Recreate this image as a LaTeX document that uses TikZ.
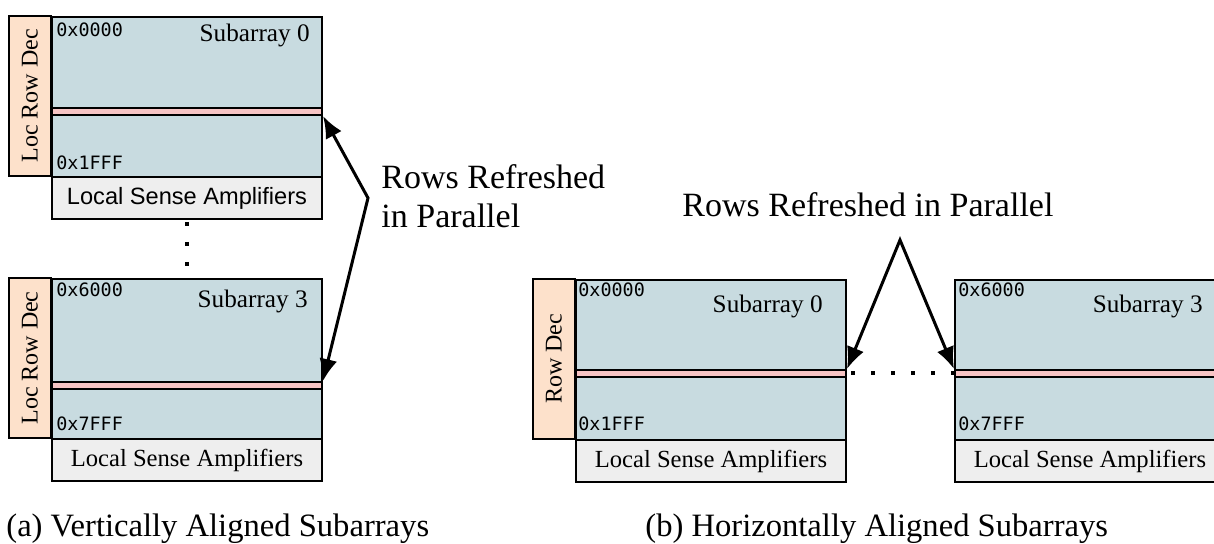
\documentclass[tikz,border=0pt]{standalone}
\usepackage{fontspec}
\setmainfont{Liberation Serif}
\setsansfont{Liberation Sans}
\setmonofont{DejaVu Sans Mono}
\usetikzlibrary{arrows.meta}
\definecolor{subfill}{RGB}{200,219,224}
\definecolor{decfill}{RGB}{253,225,203}
\definecolor{rowfill}{RGB}{247,196,196}
\definecolor{ampfill}{RGB}{238,238,238}
\tikzset{
	subbox/.style={draw=black, line width=1pt, fill=subfill, inner sep=0pt,
		minimum width=135pt, minimum height=80pt, anchor=north west},
	rowbar/.style={draw=black, line width=1pt, fill=rowfill, inner sep=0pt,
		minimum width=135pt, minimum height=3.5pt, anchor=north west},
	ampbox/.style={draw=black, line width=1pt, fill=ampfill, inner sep=0pt,
		minimum width=135pt, minimum height=21pt, anchor=north west,
		font=\fontsize{12.3}{14}\selectfont},
	decbox/.style={draw=black, line width=1pt, fill=decfill, inner sep=0pt,
		minimum width=80pt, minimum height=21pt, rotate=90,
		font=\fontsize{12}{14}\selectfont},
	addr/.style={inner sep=0pt, anchor=base west, font=\ttfamily\fontsize{9.2}{10}\selectfont},
	title/.style={inner sep=0pt, anchor=base east, font=\fontsize{12.6}{14}\selectfont},
	callout/.style={inner sep=0pt, align=left, font=\fontsize{17}{19.5}\selectfont},
	captext/.style={inner sep=0pt, anchor=base west, font=\fontsize{16.3}{18}\selectfont},
	arr/.style={line width=1.5pt, arrows={Latex[length=11pt,width=9pt]-Latex[length=11pt,width=9pt]}},
	dotline/.style={line width=2pt, dash pattern=on 2pt off 8pt}
}
\begin{document}
\begin{tikzpicture}[x=0.5pt, y=-0.5pt]
	\useasboundingbox (0,0) rectangle (1214,544);
	% (a) vertically aligned
	\node [subbox] at (51,16) (S0) {};
	\node [rowbar] at (51,107) (R0) {};
	\node [ampbox, font=\sffamily\fontsize{11.8}{14}\selectfont] at (51,176) (A0) {Local Sense Amplifiers};
	\node [decbox] at (30,96) (D0) {Loc Row Dec};
	\node [addr] at (56,37) (T0) {0x0000};
	\node [addr] at (56,170) (B0) {0x1FFF};
	\node [title] at (310,42) (N0) {Subarray 0};
	\node [subbox] at (51,278) (S3) {};
	\node [rowbar] at (51,381) (R3) {};
	\node [ampbox] at (51,438) (A3) {Local Sense Amplifiers};
	\node [decbox] at (30,358) (D3) {Loc Row Dec};
	\node [addr] at (56,297) (T3) {0x6000};
	\node [addr] at (56,431) (B3) {0x7FFF};
	\node [title] at (308,308) (N3) {Subarray 3};
	\draw [dotline] ([yshift=-1pt]A0.south) -- (S3.north);
	\coordinate (PA) at (368,198);
	\draw [arr] (R0.south east) -- (PA) -- (R3.north east);
	\node [callout, anchor=west] at (381,196) (LA) {Rows Refreshed\\in Parallel};
	\node [captext] at (6,536) (CA) {(a) Vertically Aligned Subarrays};
	% (b) horizontally aligned
	\node [subbox] at (575,279) (SB0) {};
	\node [rowbar] at (575,369) (RB0) {};
	\node [ampbox] at (575,439) (AB0) {Local Sense Amplifiers};
	\node [decbox] at (554,359) (DB0) {Row Dec};
	\node [addr] at (578,297) (TB0) {0x0000};
	\node [addr] at (578,431) (BB0) {0x1FFF};
	\node [title] at (823,313) (NB0) {Subarray 0};
	\node [subbox] at (954,279) (SB3) {};
	\node [rowbar] at (954,369) (RB3) {};
	\node [ampbox] at (954,439) (AB3) {Local Sense Amplifiers};
	\node [addr] at (958,297) (TB3) {0x6000};
	\node [addr] at (958,431) (BB3) {0x7FFF};
	\node [title] at (1203,313) (NB3) {Subarray 3};
	\draw [dotline] ([xshift=2pt]RB0.east) -- (RB3.west);
	\coordinate (PB) at (900,240);
	\draw [arr] (RB0.north east) -- (PB) -- (RB3.north west);
	\node [callout, anchor=base west] at (682,217) (LB) {Rows Refreshed in Parallel};
	\node [captext] at (645,536) (CB) {(b) Horizontally Aligned Subarrays};
\end{tikzpicture}
\end{document}
